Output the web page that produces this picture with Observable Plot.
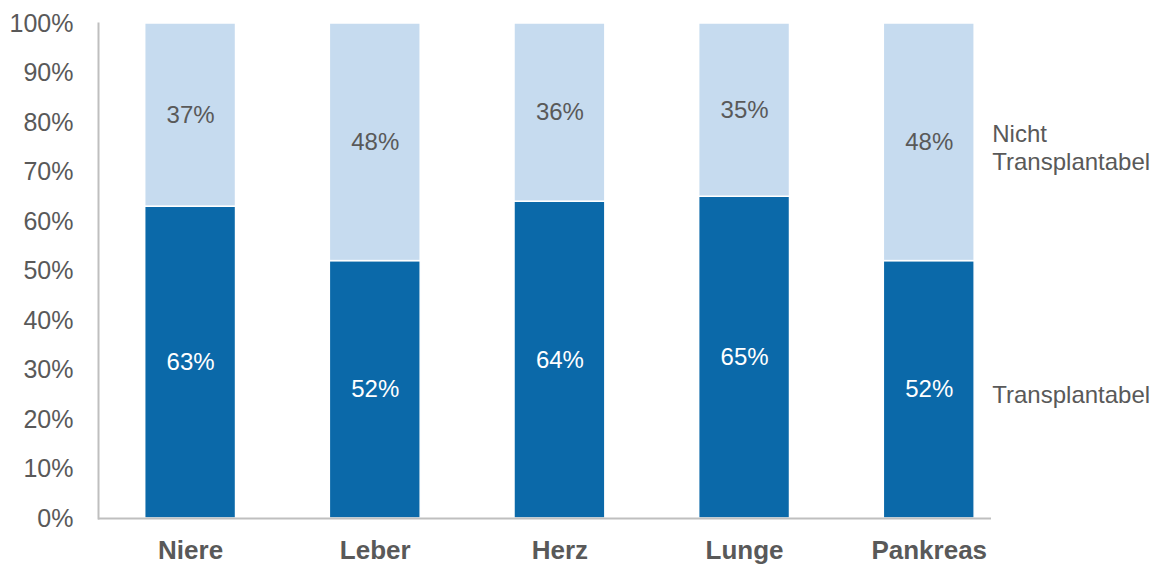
<!DOCTYPE html>
<html><head><meta charset="utf-8">
<script src="https://cdn.jsdelivr.net/npm/d3@7"></script>
<script src="https://cdn.jsdelivr.net/npm/@observablehq/plot@0.6"></script>
<style>body{margin:0;background:#fff}</style>
</head><body><div id="chart"></div>
<script>
const organs = ["Niere", "Leber", "Herz", "Lunge", "Pankreas"];
const transplantabel = [63, 52, 64, 65, 52];
const nichtTransplantabel = [37, 48, 36, 35, 48];
const seriesNames = ["Transplantabel", "Nicht Transplantabel"];
const legendLabels = ["Transplantabel", "Nicht\nTransplantabel"];
const seriesColors = ["#0B69A9", "#C6DBEF"];
const labelColors = ["#ffffff", "#595959"];
const yTicks = [0, 10, 20, 30, 40, 50, 60, 70, 80, 90, 100];

const rows = organs.flatMap((o, i) => [
  {organ: o, series: seriesNames[0], value: transplantabel[i]},
  {organ: o, series: seriesNames[1], value: nichtTransplantabel[i]}
]);
const lastOrgan = organs[organs.length - 1];

const chart = Plot.plot({
  width: 1155,
  height: 565,
  marginTop: 23,
  marginBottom: 47,
  marginLeft: 98,
  marginRight: 164,
  style: {fontFamily: "Arial, 'Liberation Sans', sans-serif", color: "#595959", background: "#fff"},
  x: {domain: organs, paddingInner: 0.508, paddingOuter: 0.172, align: 0.735, round: false, label: null},
  y: {domain: [0, 100], label: null},
  color: {domain: seriesNames, range: seriesColors},
  marks: [
    Plot.barY(rows, {x: "organ", y: "value", fill: "series", stroke: "#fff", strokeWidth: 1.5}),
    Plot.text(rows, Plot.stackY({x: "organ", y: "value", z: "series",
      text: d => d.value + "%",
      fill: d => labelColors[seriesNames.indexOf(d.series)],
      fontSize: 24})),
    Plot.text(rows.filter(d => d.organ === lastOrgan), Plot.stackY({x: "organ", y: "value", z: "series",
      text: d => legendLabels[seriesNames.indexOf(d.series)],
      textAnchor: "start", dx: 63, dy: 5, fill: "#595959", fontSize: 24, lineHeight: 1.13})),
    Plot.ruleY([0], {stroke: "#bfbfbf", strokeWidth: 2}),
    Plot.frame({anchor: "left", stroke: "#bfbfbf", strokeWidth: 2}),
    Plot.axisY({ticks: yTicks, tickFormat: d => d + "%", tickSize: 0, tickPadding: 25, fontSize: 25}),
    Plot.axisX({tickSize: 0, tickPadding: 22, fontSize: 26, fontWeight: "bold"})
  ]
});
document.getElementById("chart").appendChild(chart);
</script>
</body></html>
